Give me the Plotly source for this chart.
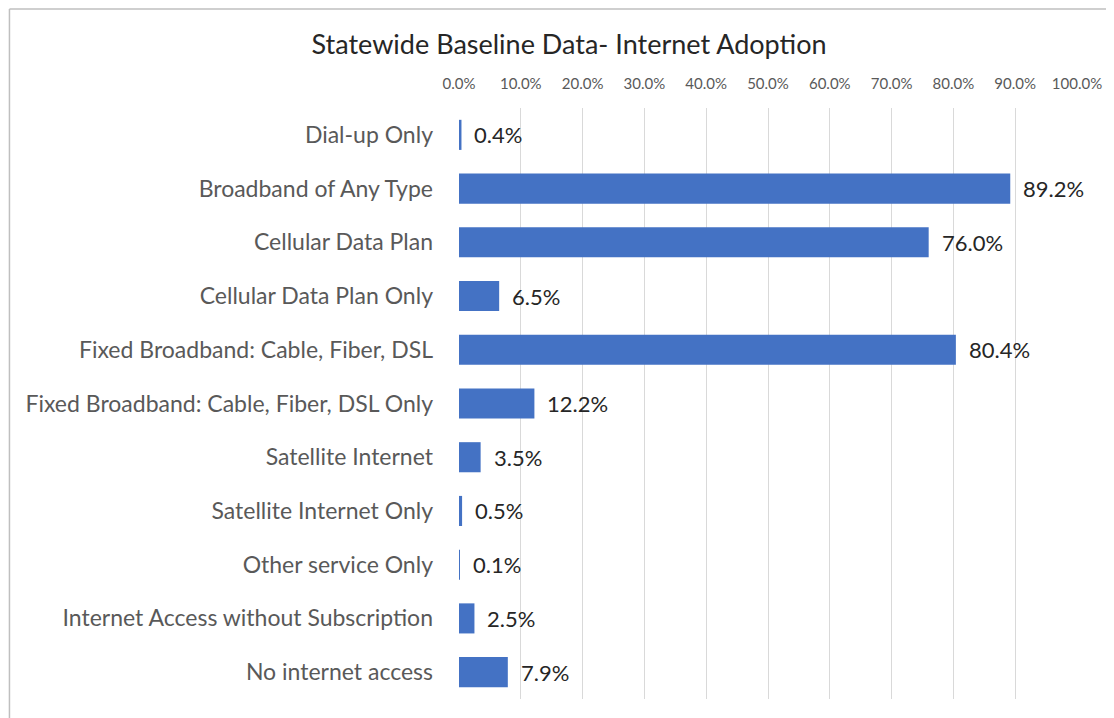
import plotly.graph_objects as go

categories = [
    "Dial-up Only",
    "Broadband of Any Type",
    "Cellular Data Plan",
    "Cellular Data Plan Only",
    "Fixed Broadband: Cable, Fiber, DSL",
    "Fixed Broadband: Cable, Fiber, DSL Only",
    "Satellite Internet",
    "Satellite Internet Only",
    "Other service Only",
    "Internet Access without Subscription",
    "No internet access",
]
values = [0.004, 0.892, 0.760, 0.065, 0.804, 0.122, 0.035, 0.005, 0.001, 0.025, 0.079]
tick_vals = [i / 10 for i in range(11)]
tick_text = [f"{v * 100:.1f}%" for v in tick_vals]
title_text = "Statewide Baseline Data- Internet Adoption"

# page is rendered with an 8px body offset
W, H = 1106, 710
ml, mr, mt, mb = 451, 35, 100, 19
font = "Lato, Open Sans, sans-serif"

fig = go.Figure(
    go.Bar(
        x=values,
        y=categories,
        orientation="h",
        marker=dict(color="#4472C4", line=dict(width=0)),
        hoverinfo="skip",
    )
)

for c, v in zip(categories, values):
    fig.add_annotation(
        x=v, y=c, xref="x", yref="y",
        text=f"{v * 100:.1f}%",
        showarrow=False, xanchor="left", yanchor="middle",
        xshift=11, yshift=0,
        font=dict(family=font, size=22, color="#262626"),
    )

pw = W - ml - mr
ph = H - mt - mb
# chart border (top and left visible)
fig.add_shape(type="line", xref="paper", yref="paper",
              x0=-ml / pw, x1=(W - ml) / pw,
              y0=1 + (mt - 1) / ph, y1=1 + (mt - 1) / ph,
              line=dict(color="#bfbfbf", width=1.5))
fig.add_shape(type="line", xref="paper", yref="paper",
              x0=-ml / pw, x1=-ml / pw,
              y0=-mb / ph, y1=1 + (mt - 1) / ph,
              line=dict(color="#bfbfbf", width=1.5))

fig.update_layout(
    width=W, height=H,
    margin=dict(l=ml, r=mr, t=mt, b=mb, pad=0),
    paper_bgcolor="white", plot_bgcolor="white",
    showlegend=False,
    bargap=0.44,
    title=dict(text=title_text, x=561 / W, xref="container", xanchor="center",
               y=1 - 37 / H, yref="container", yanchor="middle",
               font=dict(family=font, size=27, color="#262626")),
    xaxis=dict(
        side="top", range=[0, 1.0], tickvals=tick_vals, ticktext=tick_text,
        showgrid=True, gridcolor="#d9d9d9", gridwidth=1,
        zeroline=False, showline=False, ticks="",
        ticklabelstandoff=15,
        tickfont=dict(family=font, size=15, color="#595959"),
        fixedrange=True,
    ),
    yaxis=dict(
        autorange="reversed", showgrid=False, zeroline=False, showline=False,
        ticks="", ticklabelstandoff=25,
        tickfont=dict(family=font, size=23, color="#595959"),
        fixedrange=True,
    ),
)

fig.write_html("out.html")
